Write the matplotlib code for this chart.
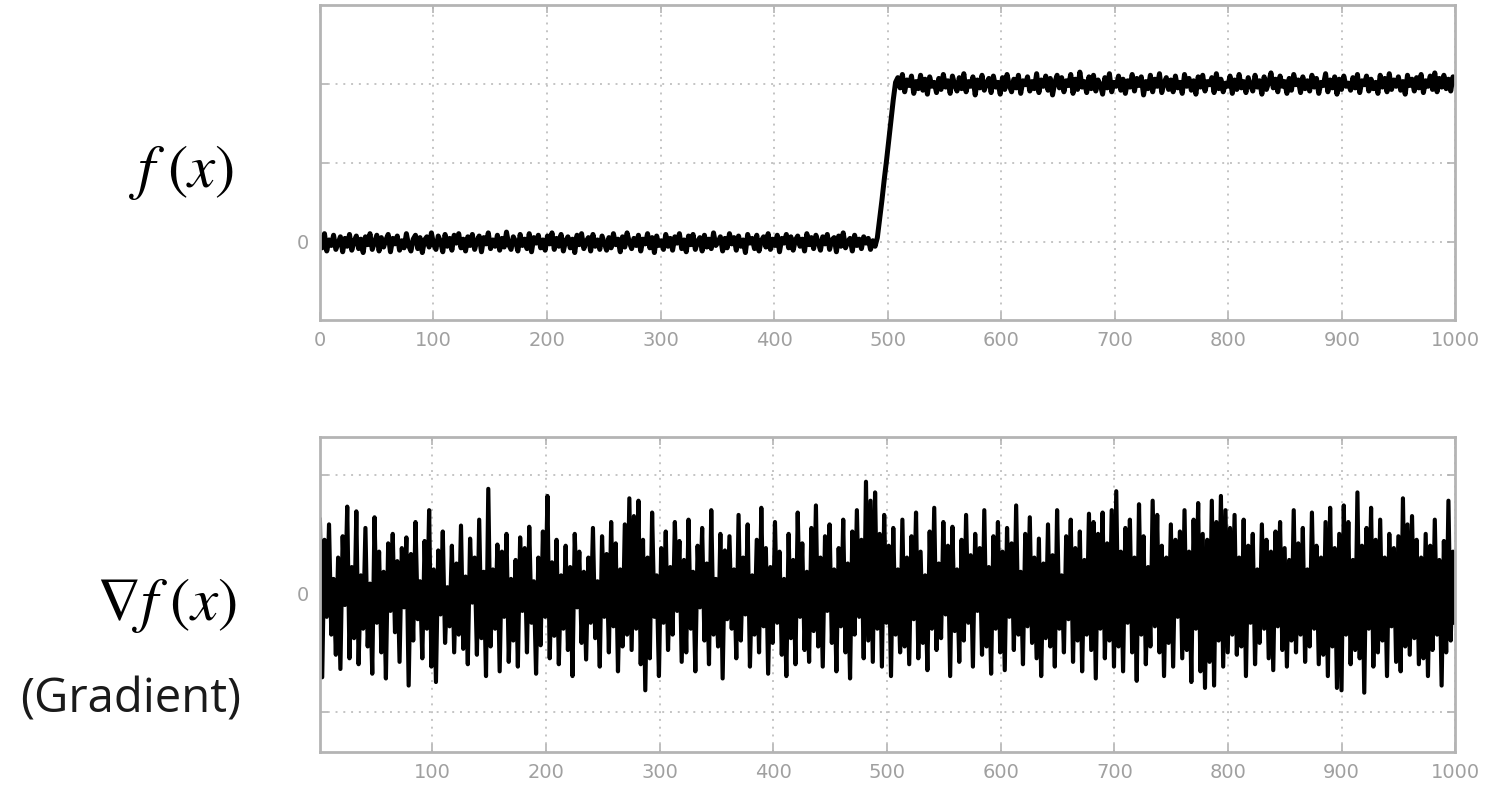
import matplotlib
matplotlib.use('Agg')
import matplotlib.pyplot as plt
import numpy as np

plt.rcParams['mathtext.fontset'] = 'stix'

# Signal f(x): flat near 0, steps up to about 2 around x = 500
f_low = [
    0.05, -0.08, 0.10, -0.12, 0.02, -0.05, 0.08, -0.10, -0.02, 0.06, -0.13, 0.04, -0.06, 0.09, -0.11, 0.00, 0.07, -0.09, 0.03, -0.14,
    0.06, -0.04, 0.10, -0.10, -0.01, 0.08, -0.12, 0.05, -0.07, 0.02, 0.09, -0.13, 0.04, -0.03, 0.07, -0.11, 0.01, -0.08, 0.10, -0.05,
    -0.12, 0.03, 0.08, -0.09, 0.05, -0.14, 0.02, 0.06, -0.07, 0.11, -0.04, -0.10, 0.07, 0.00, -0.13, 0.09, -0.06, 0.04, -0.11, 0.08,
    -0.02, 0.10, -0.08, 0.03, -0.12, 0.06, -0.05, 0.09, -0.10, 0.01, 0.07, -0.13, 0.05, -0.03, 0.11, -0.09, 0.02, -0.06, 0.08, -0.11,
    0.04, -0.07, 0.12, -0.04, -0.10, 0.06, 0.00, -0.12, 0.09, -0.05, 0.03, -0.09, 0.10, -0.13, 0.05, -0.02, 0.08, -0.08, 0.02, -0.11,
    0.07, -0.03, 0.11, -0.10, 0.04, -0.06, 0.09, -0.12, 0.01, 0.06, -0.08, 0.03, -0.14, 0.08, -0.04, 0.10, -0.09, 0.00, 0.05, -0.12,
    0.09, -0.06, 0.02, -0.10, 0.07, -0.02, -0.11, 0.05, -0.08, 0.10, -0.04, 0.03, -0.13, 0.06, -0.07, 0.11, -0.01, -0.09, 0.04, -0.05,
    0.08, -0.12, 0.03, -0.03, 0.10, -0.08, 0.05, -0.14, 0.07, -0.05, 0.01, -0.10, 0.09, -0.06, 0.04, -0.11, 0.06, -0.02, 0.10, -0.09,
    0.02, -0.13, 0.07, -0.04, 0.09, -0.10, 0.00, 0.05, -0.12, 0.08, -0.07, 0.03, -0.09, 0.11, -0.05, -0.01, 0.06, -0.12, 0.04, -0.08,
    0.10, -0.03, 0.05, -0.11, 0.07, -0.06, 0.02, -0.14, 0.09, -0.02, 0.04, -0.09, 0.08, -0.12, 0.01, 0.06, -0.07, 0.10, -0.10, 0.03,
    -0.05, 0.08, -0.13, 0.04, -0.02, 0.09, -0.08, 0.06, -0.11, 0.02, 0.07, -0.06, 0.03, -0.12, 0.10, -0.04, 0.05, -0.09, 0.08, -0.01,
    -0.11, 0.06, -0.03, 0.09, -0.10, 0.02, 0.05, -0.13, 0.07, -0.06, 0.11, -0.08, 0.00, 0.04, -0.12, 0.08, -0.05, 0.03, -0.09, 0.06,
    -0.02, 0.04, -0.10, 0.01, -0.06,
]
f_ramp = [0.05, 0.28, 0.52, 0.78, 1.02, 1.28, 1.55, 1.80, 2.02]
f_high = [
    2.08, 1.95, 2.12, 1.90, 2.05, 1.98, 2.10, 1.88, 2.03, 1.94, 2.11, 1.92, 2.06, 1.87, 2.09, 1.97, 2.02, 1.89, 2.07, 1.93,
    2.12, 1.96, 2.04, 1.88, 2.10, 1.99, 1.91, 2.08, 1.94, 2.13, 1.90, 2.03, 1.97, 2.09, 1.86, 2.05, 1.95, 2.11, 1.92, 2.01,
    2.07, 1.89, 2.10, 1.96, 2.02, 1.87, 2.08, 1.93, 2.12, 1.98, 1.90, 2.06, 1.95, 2.11, 1.88, 2.04, 1.99, 2.09, 1.91, 2.03,
    1.94, 2.13, 1.89, 2.05, 1.97, 2.10, 1.92, 2.07, 1.86, 2.02, 2.11, 1.95, 2.08, 1.90, 2.04, 1.98, 2.12, 1.88, 2.06, 1.93,
    2.15, 1.96, 2.03, 1.89, 2.09, 1.94, 2.11, 1.91, 2.05, 1.99, 1.87, 2.08, 1.95, 2.13, 1.90, 2.02, 1.97, 2.10, 1.92, 2.06,
    1.88, 2.04, 1.96, 2.12, 1.91, 2.07, 1.98, 2.09, 1.86, 2.03, 1.94, 2.11, 1.90, 2.06, 1.97, 2.13, 1.89, 2.01, 2.08, 1.93,
    2.05, 1.90, 2.10, 1.95, 2.02, 1.88, 2.12, 1.97, 2.07, 1.92, 2.04, 1.87, 2.09, 1.96, 2.11, 1.91, 2.03, 1.99, 2.08, 1.89,
    2.13, 1.94, 2.06, 1.90, 2.01, 1.97, 2.10, 1.88, 2.05, 1.93, 2.12, 1.95, 2.03, 1.89, 2.08, 1.98, 1.91, 2.11, 1.96, 2.04,
    1.87, 2.09, 1.93, 2.02, 2.14, 1.95, 2.06, 1.90, 2.10, 1.97, 2.03, 1.88, 2.07, 1.92, 2.12, 1.99, 2.05, 1.89, 2.09, 1.94,
    2.04, 1.91, 2.11, 1.96, 2.07, 1.88, 2.02, 1.98, 2.13, 1.90, 2.05, 1.95, 2.09, 1.87, 2.06, 1.93, 2.10, 1.97, 2.01, 1.92,
    2.08, 1.95, 2.12, 1.89, 2.04, 1.99, 2.10, 1.91, 2.06, 1.94, 2.02, 1.88, 2.11, 1.96, 2.07, 1.90, 2.13, 1.93, 2.05, 1.97,
    2.09, 1.92, 2.03, 1.87, 2.11, 1.98, 2.06, 1.91, 2.08, 1.95, 2.12, 1.89, 2.04, 1.97, 2.10, 1.93, 2.14, 1.90, 2.07, 1.96,
    2.11, 1.94, 2.06, 1.91, 2.09, 2.02,
]
f_values = f_low + f_ramp + f_high

# Gradient of f(x): noisy, roughly within +-0.95
grad_values = [
    0.62, -0.71, 0.45, -0.20, 0.58, -0.35, 0.12, -0.52, 0.30, -0.64, 0.48, -0.10, 0.73, -0.55, 0.22, -0.38, 0.69, -0.60, 0.15, -0.30,
    0.55, -0.45, 0.08, -0.68, 0.64, -0.25, 0.35, -0.50, 0.18, -0.72, 0.42, -0.15, 0.50, -0.33, 0.27, -0.58, 0.38, -0.12, 0.47, -0.78,
    0.33, -0.40, 0.60, -0.22, 0.10, -0.55, 0.44, -0.30, 0.70, -0.62, 0.20, -0.75, 0.36, -0.18, 0.52, -0.42, 0.05, -0.28, 0.40, -0.50,
    0.25, -0.35, 0.57, -0.47, 0.14, -0.60, 0.46, -0.08, 0.30, -0.52, 0.62, -0.38, 0.18, -0.70, 0.88, -0.45, 0.20, -0.30, 0.41, -0.66,
    0.35, -0.20, 0.50, -0.58, 0.12, -0.40, 0.28, -0.62, 0.47, -0.15, 0.38, -0.50, 0.56, -0.25, 0.10, -0.68, 0.30, -0.44, 0.52, -0.20,
    0.82, -0.55, 0.26, -0.36, 0.45, -0.60, 0.15, -0.30, 0.40, -0.48, 0.22, -0.70, 0.50, -0.12, 0.35, -0.42, 0.18, -0.56, 0.30, -0.25,
    0.55, -0.38, 0.10, -0.62, 0.48, -0.20, 0.33, -0.50, 0.60, -0.28, 0.42, -0.66, 0.20, -0.45, 0.58, -0.35, 0.80, -0.48, 0.65, -0.30,
    0.78, -0.60, 0.45, -0.82, 0.30, -0.55, 0.68, -0.20, 0.15, -0.70, 0.38, -0.25, 0.52, -0.48, 0.22, -0.35, 0.60, -0.15, 0.44, -0.58,
    0.28, -0.50, 0.62, -0.30, 0.18, -0.66, 0.40, -0.12, 0.55, -0.40, 0.25, -0.60, 0.70, -0.35, 0.12, -0.45, 0.50, -0.72, 0.36, -0.22,
    0.48, -0.30, 0.20, -0.55, 0.66, -0.40, 0.30, -0.18, 0.58, -0.62, 0.15, -0.35, 0.45, -0.50, 0.72, -0.28, 0.38, -0.68, 0.22, -0.42,
    0.60, -0.25, 0.35, -0.52, 0.12, -0.70, 0.50, -0.38, 0.28, -0.60, 0.68, -0.20, 0.42, -0.48, 0.18, -0.58, 0.55, -0.32, 0.74, -0.45,
    0.30, -0.62, 0.48, -0.15, 0.58, -0.42, 0.20, -0.66, 0.38, -0.28, 0.62, -0.50, 0.25, -0.72, 0.52, -0.35, 0.70, -0.20, 0.45, -0.55,
    0.94, -0.40, 0.78, -0.58, 0.85, -0.30, 0.50, -0.62, 0.66, -0.25, 0.40, -0.70, 0.55, -0.35, 0.20, -0.50, 0.62, -0.45, 0.30, -0.60,
    0.48, -0.22, 0.68, -0.55, 0.35, -0.42, 0.15, -0.65, 0.52, -0.30, 0.72, -0.48, 0.25, -0.38, 0.60, -0.18, 0.40, -0.70, 0.56, -0.32,
    0.20, -0.58, 0.45, -0.40, 0.66, -0.25, 0.32, -0.62, 0.50, -0.15, 0.38, -0.52, 0.70, -0.45, 0.22, -0.68, 0.48, -0.30, 0.60, -0.50,
    0.35, -0.65, 0.55, -0.20, 0.42, -0.48, 0.74, -0.35, 0.18, -0.60, 0.50, -0.28, 0.64, -0.42, 0.30, -0.55, 0.46, -0.70, 0.25, -0.38,
    0.58, -0.45, 0.32, -0.62, 0.70, -0.30, 0.15, -0.50, 0.48, -0.22, 0.62, -0.58, 0.38, -0.40, 0.52, -0.66, 0.28, -0.35, 0.67, -0.48,
    0.60, -0.72, 0.50, -0.30, 0.68, -0.55, 0.42, -0.40, 0.70, -0.62, 0.86, -0.45, 0.35, -0.66, 0.55, -0.25, 0.62, -0.50, 0.30, -0.74,
    0.75, -0.35, 0.48, -0.60, 0.22, -0.45, 0.78, -0.28, 0.66, -0.50, 0.40, -0.70, 0.30, -0.42, 0.58, -0.62, 0.45, -0.20, 0.52, -0.55,
    0.70, -0.48, 0.35, -0.75, 0.62, -0.30, 0.76, -0.66, 0.50, -0.80, 0.45, -0.58, 0.78, -0.78, 0.60, -0.40, 0.82, -0.62, 0.70, -0.50,
    0.55, -0.35, 0.66, -0.52, 0.30, -0.45, 0.62, -0.70, 0.40, -0.25, 0.50, -0.60, 0.20, -0.42, 0.58, -0.30, 0.45, -0.55, 0.35, -0.65,
    0.52, -0.28, 0.60, -0.48, 0.38, -0.62, 0.28, -0.40, 0.70, -0.50, 0.42, -0.35, 0.55, -0.58, 0.20, -0.45, 0.68, -0.30, 0.40, -0.60,
    0.30, -0.52, 0.60, -0.70, 0.72, -0.45, 0.38, -0.80, 0.50, -0.82, 0.74, -0.35, 0.60, -0.60, 0.28, -0.48, 0.85, -0.55, 0.40, -0.84,
    0.55, -0.30, 0.72, -0.62, 0.45, -0.50, 0.62, -0.40, 0.30, -0.70, 0.50, -0.28, 0.38, -0.58, 0.48, -0.66, 0.80, -0.45, 0.58, -0.52,
    0.65, -0.38, 0.45, -0.60, 0.30, -0.55, 0.50, -0.70, 0.40, -0.48, 0.62, -0.35, 0.28, -0.78, 0.44, -0.50, 0.78, -0.40, 0.35, -0.25,
]

x_f = np.linspace(0, 1000, len(f_values))
x_grad = np.linspace(1, 1000, len(grad_values))

top_xticks = [0, 100, 200, 300, 400, 500, 600, 700, 800, 900, 1000]
bottom_xticks = [100, 200, 300, 400, 500, 600, 700, 800, 900, 1000]

frame_color = '#b4b4b4'
tick_color = '#a0a0a0'
grid_color = '#c4c4c4'

fig = plt.figure(figsize=(14.88, 7.89), dpi=100)
ax1 = fig.add_axes([0.215, 0.594, 0.763, 0.3995])
ax2 = fig.add_axes([0.215, 0.047, 0.763, 0.3995])


def style_axes(ax):
    for spine in ax.spines.values():
        spine.set_color(frame_color)
        spine.set_linewidth(2)
    ax.grid(True, linestyle=(0, (1, 3)), color=grid_color, linewidth=1.4)
    ax.tick_params(direction='in', top=True, right=True, length=6, width=1.2,
                   color=frame_color, labelcolor=tick_color, labelsize=14, pad=8)


# Top: the signal
ax1.plot(x_f, f_values, color='black', linewidth=3.6)
ax1.set_xlim(0, 1000)
ax1.set_ylim(-1, 3)
ax1.set_xticks(top_xticks)
ax1.set_yticks([0, 1, 2])
ax1.set_yticklabels(['0', '', ''])
style_axes(ax1)

# Bottom: the gradient
ax2.plot(x_grad, grad_values, color='black', linewidth=3.0)
ax2.set_xlim(1, 1000)
ax2.set_ylim(-1.34, 1.32)
ax2.set_xticks(bottom_xticks)
ax2.set_yticks([-1, 0, 1])
ax2.set_yticklabels(['', '0', ''])
style_axes(ax2)

# Row labels on the left
fig.text(0.122, 0.782, r'$f\;(x)$', fontsize=44, ha='center', va='center')
fig.text(0.112, 0.232, r'$\nabla f\;(x)$', fontsize=44, ha='center', va='center')
fig.text(0.088, 0.113, '(Gradient)', fontsize=34, family='Open Sans',
         ha='center', va='center', color='#1a1a1a')

fig.savefig('out.png', dpi=100)
